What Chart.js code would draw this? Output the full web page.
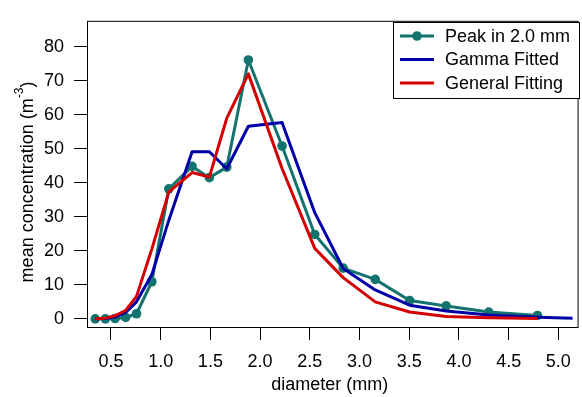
<!DOCTYPE html>
<html>
<head>
<meta charset="utf-8">
<script src="https://cdn.jsdelivr.net/npm/chart.js@4.4.1/dist/chart.umd.min.js"></script>
<style>
  html, body { margin: 0; padding: 0; background: #fff; }
  #wrap { width: 582px; height: 397px; }
</style>
</head>
<body>
<div id="wrap"><canvas id="chart" width="582" height="397"></canvas></div>
<script>
// diameter bins (mm)
const diameters = [0.342, 0.444, 0.542, 0.648, 0.757, 0.911, 1.082, 1.316, 1.49, 1.665,
                   1.882, 2.221, 2.55, 2.836, 3.158, 3.504, 3.872, 4.30, 4.79];
const gammaDiameters = [0.342, 0.444, 0.542, 0.648, 0.757, 0.911, 1.082, 1.316, 1.49, 1.665,
                        1.882, 2.221, 2.55, 2.836, 3.158, 3.504, 3.872, 4.30, 4.79, 5.32];

const peakValues = [0, 0, 0.1, 0.4, 1.5, 10.9, 38.2, 44.8, 41.5, 44.6,
                    76.1, 50.8, 24.8, 14.9, 11.6, 5.4, 3.8, 2.0, 1.0];
const gammaValues = [0, 0.1, 0.5, 1.9, 5.0, 13.0, 29.0, 49.1, 49.1, 44.1,
                     56.6, 57.7, 31.2, 14.8, 8.5, 4.0, 2.3, 1.1, 0.5, 0.0];
const generalValues = [0, 0.2, 0.9, 2.5, 6.6, 20.5, 37.3, 43.0, 41.7, 59.0,
                       72.0, 44.2, 20.7, 12.1, 5.0, 2.0, 0.7, 0.3, 0.1];

const xTicks = [0.5, 1.0, 1.5, 2.0, 2.5, 3.0, 3.5, 4.0, 4.5, 5.0];
const yTicks = [0, 10, 20, 30, 40, 50, 60, 70, 80];

const seriesNames = ['Peak in 2.0 mm', 'Gamma Fitted', 'General Fitting'];
const colTeal = '#13736f';
const colBlue = '#0000a6';
const colRed = '#d40000';

const FONT = '"Liberation Sans", Arial, sans-serif';
const FSIZE = 18;

function toPoints(xs, ys) {
    return ys.map((v, i) => ({ x: xs[i], y: v }));
}

// рамка графика
const framePlugin = {
    id: 'frame',
    afterDraw(chart) {
        const a = chart.chartArea;
        const ctx = chart.ctx;
        ctx.save();
        ctx.strokeStyle = '#000';
        ctx.lineWidth = 1;
        ctx.strokeRect(a.left + 0.5, a.top + 0.5, a.right - a.left + 5, a.bottom - a.top);
        ctx.restore();
    }
};

// legend inside the plot, top right
const boxLegend = {
    id: 'boxLegend',
    afterDraw(chart) {
        const ctx = chart.ctx;
        const x0 = 393, y0 = 22, w = 186, h = 76;
        ctx.save();
        ctx.fillStyle = '#fff';
        ctx.fillRect(x0, y0, w, h);
        ctx.strokeStyle = '#000';
        ctx.lineWidth = 1;
        ctx.strokeRect(x0 + 0.5, y0 + 0.5, w, h);
        ctx.font = FSIZE + 'px ' + FONT;
        ctx.textBaseline = 'middle';
        chart.data.datasets.forEach((ds, i) => {
            const cy = y0 + 14 + i * 23.5;
            ctx.strokeStyle = ds.borderColor;
            ctx.lineWidth = 3;
            ctx.beginPath();
            ctx.moveTo(x0 + 7, cy);
            ctx.lineTo(x0 + 41, cy);
            ctx.stroke();
            if (ds.pointRadius > 0) {
                ctx.fillStyle = ds.borderColor;
                ctx.beginPath();
                ctx.arc(x0 + 24, cy, ds.pointRadius, 0, Math.PI * 2);
                ctx.fill();
            }
            ctx.fillStyle = '#000';
            ctx.fillText(ds.label, x0 + 52, cy + 1);
        });
        ctx.restore();
    }
};

// y axis title with superscript
const yTitlePlugin = {
    id: 'yTitle',
    afterDraw(chart) {
        const ctx = chart.ctx;
        const main = 'mean concentration (m', sup = '-3', tail = ')';
        ctx.save();
        ctx.translate(28, 182);
        ctx.rotate(-Math.PI / 2);
        ctx.fillStyle = '#000';
        ctx.textBaseline = 'middle';
        ctx.font = FSIZE + 'px ' + FONT;
        const w1 = ctx.measureText(main).width;
        const w3 = ctx.measureText(tail).width;
        ctx.font = '12px ' + FONT;
        const w2 = ctx.measureText(sup).width;
        let x = -(w1 + w2 + w3) / 2;
        ctx.font = FSIZE + 'px ' + FONT;
        ctx.fillText(main, x, 0);
        x += w1;
        ctx.font = '12px ' + FONT;
        ctx.fillText(sup, x, -8);
        x += w2;
        ctx.font = FSIZE + 'px ' + FONT;
        ctx.fillText(tail, x, 0);
        ctx.restore();
    }
};

const ctx = document.getElementById('chart').getContext('2d');
new Chart(ctx, {
    type: 'line',
    data: {
        datasets: [
            {
                label: seriesNames[0],
                data: toPoints(diameters, peakValues),
                borderColor: colTeal,
                backgroundColor: colTeal,
                borderWidth: 3,
                pointRadius: 4.8,
                pointBorderWidth: 0,
                pointBackgroundColor: colTeal,
                order: 3
            },
            {
                label: seriesNames[1],
                data: toPoints(gammaDiameters, gammaValues),
                borderColor: colBlue,
                borderWidth: 3,
                pointRadius: 0,
                order: 2
            },
            {
                label: seriesNames[2],
                data: toPoints(diameters, generalValues),
                borderColor: colRed,
                borderWidth: 3,
                pointRadius: 0,
                order: 1
            }
        ]
    },
    options: {
        responsive: false,
        animation: false,
        layout: { padding: { top: 12, right: 0, left: 0, bottom: 0 } },
        plugins: {
            legend: { display: false },
            tooltip: { enabled: false }
        },
        elements: { line: { tension: 0, borderJoinStyle: 'round' } },
        scales: {
            x: {
                type: 'linear',
                min: 0.259,
                max: 5.143,
                afterBuildTicks: scale => { scale.ticks = xTicks.map(v => ({ value: v })); },
                afterFit: scale => { scale.height = 70; },
                grid: { display: true, drawOnChartArea: false, drawTicks: true, tickLength: 13, color: '#000', lineWidth: 1 },
                border: { display: false },
                ticks: {
                    color: '#000',
                    font: { family: FONT, size: FSIZE },
                    padding: 11,
                    maxRotation: 0,
                    callback: v => v.toFixed(1)
                },
                title: {
                    display: true,
                    text: 'diameter (mm)',
                    color: '#000',
                    font: { family: FONT, size: FSIZE },
                    padding: { top: 0, bottom: 1 }
                }
            },
            y: {
                min: -2.4,
                max: 87.6,
                afterBuildTicks: scale => { scale.ticks = yTicks.map(v => ({ value: v })); },
                afterFit: scale => { scale.width = 87; },
                grid: { display: true, drawOnChartArea: false, drawTicks: true, tickLength: 13, color: '#000', lineWidth: 1 },
                border: { display: false },
                ticks: {
                    color: '#000',
                    font: { family: FONT, size: FSIZE },
                    padding: 10
                }
            }
        }
    },
    plugins: [framePlugin, yTitlePlugin, boxLegend]
});
</script>
</body>
</html>
